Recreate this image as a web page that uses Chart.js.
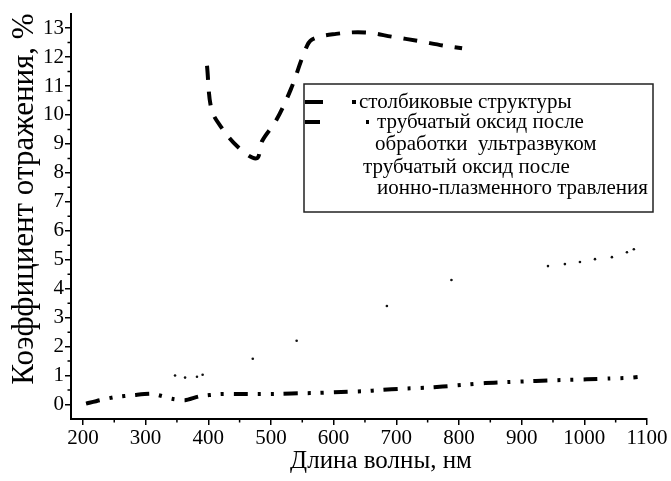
<!DOCTYPE html>
<html lang="ru">
<head>
  <meta charset="UTF-8" />
  <title>Коэффициент отражения</title>
  <script src="https://cdn.jsdelivr.net/npm/chart.js"></script>
  <style>
    body { margin: 0; background: #fff; }
  </style>
</head>
<body>
<canvas id="grafik" width="671" height="481"></canvas>
<script>
  // Данные
  const seriesNames = [
    'столбиковые структуры',
    'трубчатый оксид после обработки ультразвуком',
    'трубчатый оксид после ионно-плазменного травления'
  ];

  const stolbX = [398, 405, 420, 447, 477, 486, 508, 532, 554, 565, 604, 650, 694, 736, 774, 805];
  const stolbY = [11.7, 10.2, 9.6, 8.9, 8.5, 9.1, 9.8, 10.9, 12.2, 12.6, 12.8, 12.85, 12.7, 12.55, 12.4, 12.3];

  const ultraX = [205, 227, 250, 283, 311, 342, 363, 385, 419, 450, 475, 516, 550, 575, 612, 649, 674, 711, 746, 774, 808, 842, 870, 904, 941, 969, 1004, 1041, 1069, 1085];
  const ultraY = [0.03, 0.15, 0.25, 0.33, 0.37, 0.2, 0.15, 0.28, 0.36, 0.36, 0.36, 0.37, 0.39, 0.4, 0.43, 0.46, 0.5, 0.55, 0.58, 0.62, 0.68, 0.74, 0.77, 0.8, 0.83, 0.85, 0.87, 0.9, 0.92, 0.95];

  const plasmaX = [347, 363, 382, 391, 471, 541, 685, 788, 942, 969, 993, 1017, 1044, 1068, 1079];
  const plasmaY = [1.0, 0.93, 0.96, 1.03, 1.58, 2.2, 3.4, 4.3, 4.78, 4.85, 4.92, 5.02, 5.09, 5.26, 5.36];

  const xTicks = [200, 300, 400, 500, 600, 700, 800, 900, 1000, 1100];
  const yTicks = [0, 1, 2, 3, 4, 5, 6, 7, 8, 9, 10, 11, 12, 13];

  const xTitle = 'Длина волны, нм';
  const yTitle = 'Коэффициент отражения, %';

  const shrift = '"Liberation Serif", "Times New Roman", serif';

  function toPoints(xs, ys) {
    return xs.map((x, i) => ({ x: x, y: ys[i] }));
  }

  // Малые деления осей
  const minorTicks = {
    id: 'minorTicks',
    afterDraw(chart) {
      const { ctx, scales: { x, y } } = chart;
      ctx.save();
      ctx.strokeStyle = '#000';
      ctx.lineWidth = 1.5;
      ctx.beginPath();
      for (let v = 250; v < 1100; v += 100) {
        const px = x.getPixelForValue(v);
        ctx.moveTo(px, x.top);
        ctx.lineTo(px, x.top + 3.5);
      }
      for (let v = 0.5; v < 13.5; v += 1) {
        const py = y.getPixelForValue(v);
        ctx.moveTo(y.right, py);
        ctx.lineTo(y.right - 3.5, py);
      }
      ctx.stroke();
      ctx.restore();
    }
  };

  // Подписи осей (смещены как на рисунке)
  const axisTitles = {
    id: 'axisTitles',
    afterDraw(chart) {
      const ctx = chart.ctx;
      ctx.save();
      ctx.fillStyle = '#000';
      ctx.textAlign = 'center';
      ctx.textBaseline = 'middle';
      ctx.font = '25px ' + shrift;
      ctx.fillText(xTitle, 381, 461);
      ctx.translate(25, 199);
      ctx.rotate(-Math.PI / 2);
      ctx.font = '31px ' + shrift;
      ctx.fillText(yTitle, 0, 0);
      ctx.restore();
    }
  };

  // Легенда в рамке, как на рисунке
  const legendBox = { left: 304, top: 84, right: 653, bottom: 212 };
  const legendLines = [
    { text: 'столбиковые структуры', x: 359, y: 102, sample: { x1: 305, x2: 356, dash: [18, 29], width: 4 } },
    { text: 'трубчатый оксид после', x: 377, y: 122, sample: { x1: 305, x2: 369, dash: [15, 46, 3, 10], width: 4 } },
    { text: 'обработки  ультразвуком', x: 375, y: 144 },
    { text: 'трубчатый оксид после', x: 363, y: 167 },
    { text: 'ионно-плазменного травления', x: 377, y: 188 }
  ];

  const boxLegend = {
    id: 'boxLegend',
    afterDraw(chart) {
      const ctx = chart.ctx;
      ctx.save();
      ctx.fillStyle = '#fff';
      ctx.fillRect(legendBox.left, legendBox.top, legendBox.right - legendBox.left, legendBox.bottom - legendBox.top);
      ctx.strokeStyle = '#222';
      ctx.lineWidth = 1.5;
      ctx.strokeRect(legendBox.left, legendBox.top, legendBox.right - legendBox.left, legendBox.bottom - legendBox.top);
      ctx.font = '21px ' + shrift;
      ctx.textBaseline = 'middle';
      ctx.textAlign = 'left';
      ctx.fillStyle = '#000';
      legendLines.forEach(l => {
        if (l.sample) {
          ctx.beginPath();
          ctx.setLineDash(l.sample.dash);
          ctx.lineWidth = l.sample.width;
          ctx.strokeStyle = '#000';
          ctx.moveTo(l.sample.x1, l.y);
          ctx.lineTo(l.sample.x2, l.y);
          ctx.stroke();
          ctx.setLineDash([]);
        }
        ctx.fillText(l.text, l.x, l.y);
      });
      ctx.restore();
    }
  };

  const ctx = document.getElementById('grafik').getContext('2d');
  const myChart = new Chart(ctx, {
    type: 'line',
    data: {
      datasets: [{
        label: seriesNames[0],
        data: toPoints(stolbX, stolbY),
        borderColor: '#000',
        borderWidth: 4,
        borderDash: [14, 12],
        pointRadius: 0,
        tension: 0.35,
        fill: false
      }, {
        label: seriesNames[1],
        data: toPoints(ultraX, ultraY),
        borderColor: '#000',
        borderWidth: 4,
        borderDash: [14, 10, 3, 10, 3, 10],
        pointRadius: 0,
        tension: 0.2,
        fill: false
      }, {
        label: seriesNames[2],
        data: toPoints(plasmaX, plasmaY),
        showLine: false,
        pointRadius: 1.3,
        pointBorderWidth: 0,
        pointBackgroundColor: '#111'
      }]
    },
    options: {
      responsive: false,
      animation: false,
      devicePixelRatio: 1,
      layout: { padding: { top: 12, right: 24, left: 0, bottom: 0 } },
      plugins: {
        legend: { display: false },
        tooltip: { enabled: false }
      },
      scales: {
        x: {
          type: 'linear',
          min: 181,
          max: 1100,
          afterBuildTicks: s => { s.ticks = xTicks.map(v => ({ value: v })); },
          afterFit: s => { s.height = 62; },
          grid: { drawOnChartArea: false, drawTicks: true, tickLength: 6, color: '#000', lineWidth: 1.5 },
          border: { display: true, color: '#000', width: 2 },
          ticks: { color: '#000', font: { family: shrift, size: 21 }, padding: 1, maxRotation: 0, autoSkip: false, callback: v => String(v) }
        },
        y: {
          min: -0.5,
          max: 13.5,
          afterBuildTicks: s => { s.ticks = yTicks.map(v => ({ value: v })); },
          afterFit: s => { s.width = 71; },
          grid: { drawOnChartArea: false, drawTicks: true, tickLength: 6, color: '#000', lineWidth: 1.5 },
          border: { display: true, color: '#000', width: 2 },
          ticks: { color: '#000', font: { family: shrift, size: 21 }, padding: 1, autoSkip: false, callback: v => String(v) }
        }
      }
    },
    plugins: [minorTicks, axisTitles, boxLegend]
  });
</script>
</body>
</html>
